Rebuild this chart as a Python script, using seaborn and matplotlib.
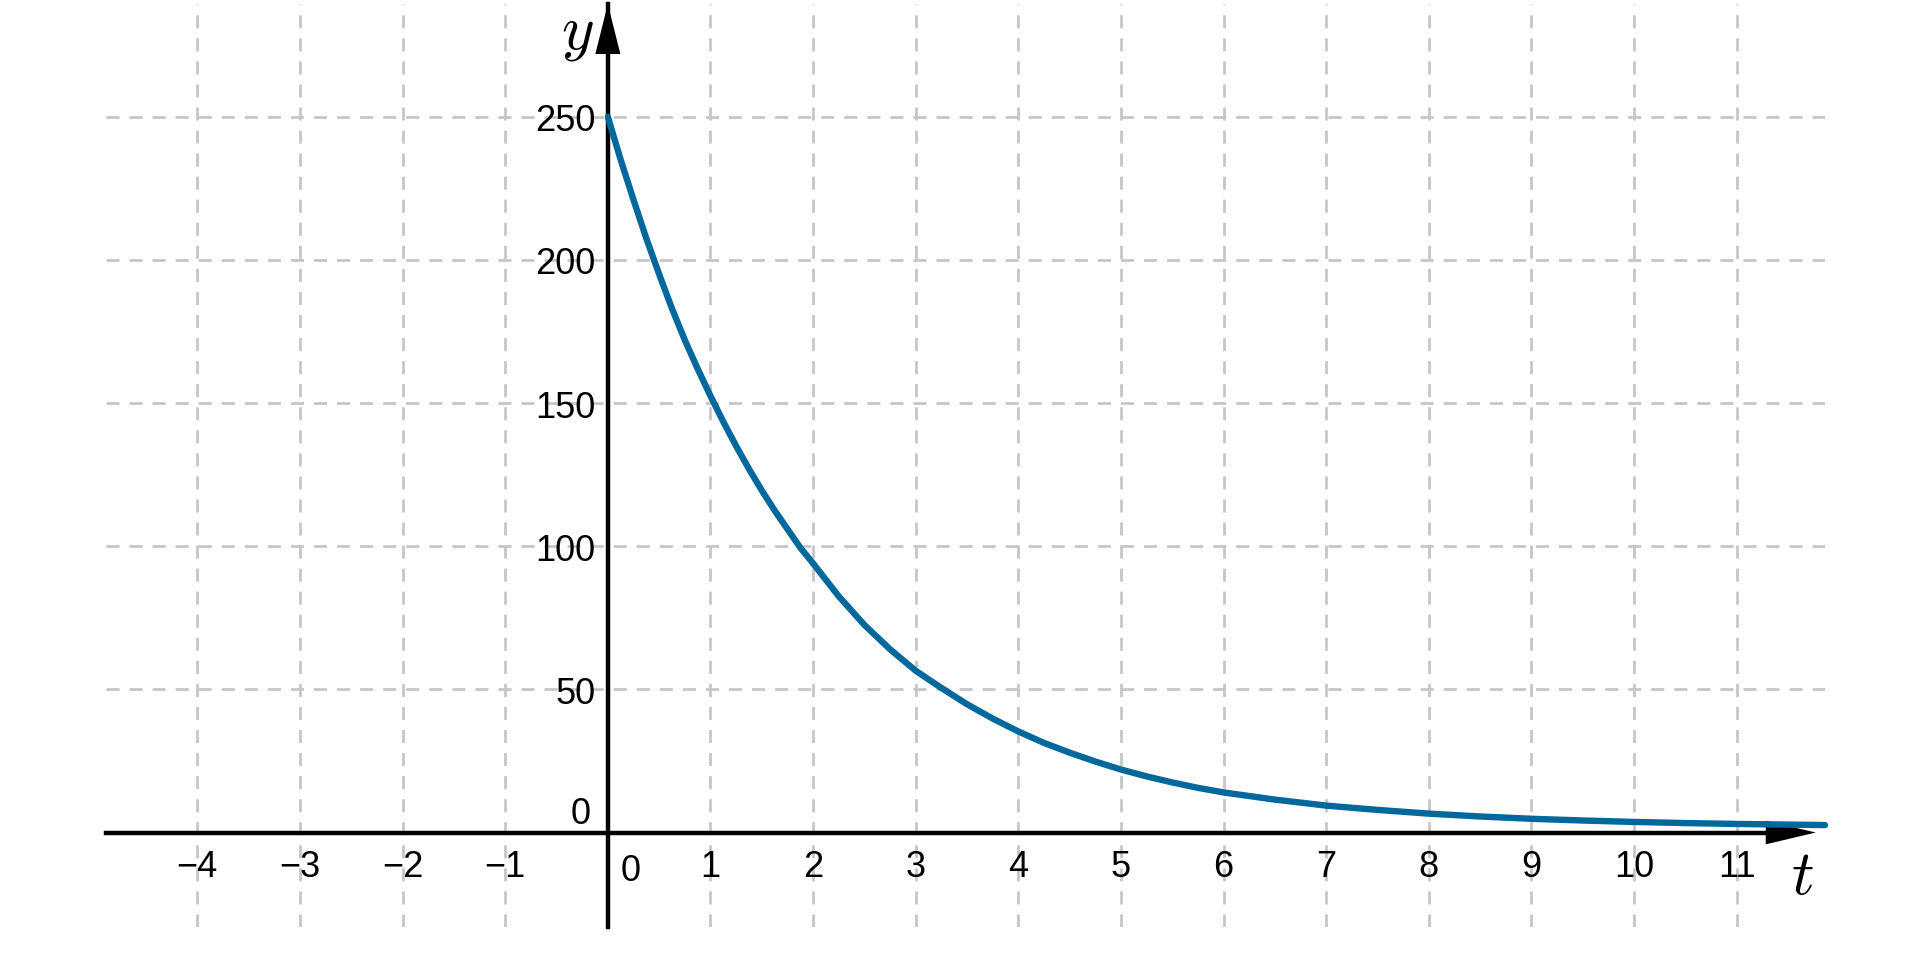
import numpy as np
import pandas as pd
import matplotlib
matplotlib.use('Agg')
import matplotlib.pyplot as plt
import seaborn as sns

sns.set_style('white')
plt.rcParams['font.family'] = ['Liberation Sans', 'DejaVu Sans']
plt.rcParams['mathtext.fontset'] = 'cm'

# values
t_vals = [0, 0.125, 0.25, 0.375, 0.5, 0.625, 0.75, 0.875, 1, 1.125, 1.25, 1.375, 1.5, 1.625,
          1.75, 1.875, 2, 2.25, 2.5, 2.75, 3, 3.25, 3.5, 3.75, 4, 4.25, 4.5, 4.75, 5, 5.25,
          5.5, 5.75, 6, 6.5, 7, 7.5, 8, 8.5, 9, 9.5, 10, 10.5, 11, 11.86]
y_vals = [250, 235, 221, 207.5, 195, 183, 172, 162, 152.5, 143.5, 135, 127, 119.5, 112.5,
          106, 99.5, 94, 82.5, 72.5, 64, 56.5, 50.5, 44.8, 39.8, 35.3, 31.3, 27.9, 24.8, 22, 19.6,
          17.5, 15.6, 14, 11.5, 9.4, 7.9, 6.6, 5.6, 4.8, 4.2, 3.7, 3.3, 3.0, 2.6]
x_ticks = [-4, -3, -2, -1, 1, 2, 3, 4, 5, 6, 7, 8, 9, 10, 11]
y_ticks = [50, 100, 150, 200, 250]

df = pd.DataFrame({'t': t_vals, 'y': y_vals})

fig = plt.figure(figsize=(19.2, 9.54), dpi=100)
ax = fig.add_axes([106 / 1920, 26 / 954, (1825 - 106) / 1920, (928 - 5) / 954])
ax.set_xlim(-4.89, 11.86)
ax.set_ylim(-33.0, 289.4)

sns.lineplot(data=df, x='t', y='y', color='#00689c', lw=4.6, ax=ax, zorder=10, clip_on=False)

ax.set_xticks(x_ticks)
ax.set_yticks(y_ticks)
ax.set_xticklabels([str(v).replace('-', '\u2212') for v in x_ticks])
ax.set_yticklabels([str(v) for v in y_ticks])
ax.grid(True, color='#c6c6c6', lw=2, linestyle=(0, (4.7, 3.6)))
ax.set_axisbelow(True)

for s in ['top', 'right']:
    ax.spines[s].set_visible(False)
ax.spines['left'].set_position(('data', 0))
ax.spines['bottom'].set_position(('data', 0))
for s in ['left', 'bottom']:
    ax.spines[s].set_linewidth(3.2)
    ax.spines[s].set_color('black')
ax.spines['bottom'].set_bounds(-4.89, 11.5)
ax.tick_params(axis='x', direction='out', length=7, width=3.3, labelsize=26, pad=5,
               colors='black')
ax.tick_params(axis='y', direction='out', length=6, width=3.3, labelsize=26, pad=3,
               colors='black')
ax.set_xlabel('')
ax.set_ylabel('')

# zero labels
ax.text(-0.17, 6.8, '0', fontsize=26, ha='right', va='center', color='black')
ax.text(0.12, -7, '0', fontsize=26, ha='left', va='top', color='black')

# arrow heads
ax.annotate('', xy=(0, 1.0), xycoords=('data', 'axes fraction'),
            xytext=(0, 0.9), textcoords=('data', 'axes fraction'),
            arrowprops=dict(arrowstyle='-|>,head_length=36,head_width=9', mutation_scale=1,
                            lw=0, color='black', shrinkA=0, shrinkB=0))
ax.annotate('', xy=(11.77, 0), xytext=(11.0, 0),
            arrowprops=dict(arrowstyle='-|>,head_length=36,head_width=8.5', mutation_scale=1,
                            lw=0, color='black', shrinkA=0, shrinkB=0))

# axis names
ax.text(-0.30, 279.5, '$y$', fontsize=45, ha='center', va='center', color='black')
ax.text(11.64, -15.5, '$t$', fontsize=45, ha='center', va='center', color='black')

fig.savefig('out.png', dpi=100)
